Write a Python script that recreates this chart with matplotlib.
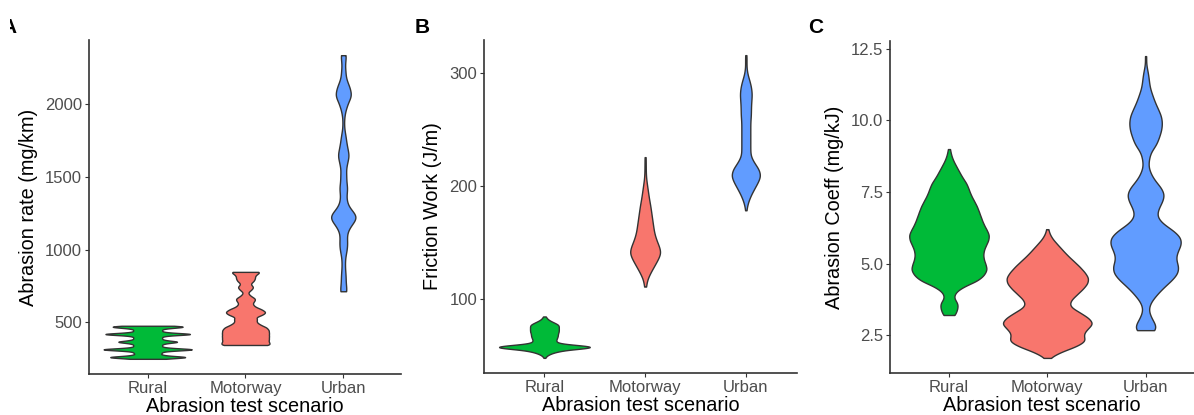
import numpy as np
import matplotlib
matplotlib.use("Agg")
import matplotlib.pyplot as plt
from matplotlib.patches import Rectangle

plt.rcParams["font.family"] = ["Liberation Sans", "DejaVu Sans"]

W, H = 1194, 415

scenarios = ["Rural", "Motorway", "Urban"]
fill_colors = ["#00BA38", "#F8766D", "#619CFF"]

# ---- Abrasion rate (mg/km): recorded values and how often each occurred ----
rate_rural_vals = [250, 262, 276, 290, 303, 315, 328, 341, 354, 367, 380, 393,
                   406, 420, 433, 446, 459, 470, 477]
rate_rural_counts = [14, 45, 15, 14, 15, 53, 15, 14, 15, 34, 15, 14,
                     15, 52, 15, 14, 15, 34, 14]

rate_motorway_vals = [345, 365, 385, 405, 425, 445, 465, 485, 505, 525, 550, 570,
                      590, 610, 628, 646, 664, 684, 703, 724, 744, 765, 785, 805,
                      826, 847]
rate_motorway_counts = [41, 35, 36, 36, 36, 36, 33, 22, 16, 19, 26, 32,
                        25, 13, 9, 12, 15, 7, 3, 9, 13, 7, 13, 15,
                        16, 26]

rate_urban_vals = [714, 770, 824, 880, 935, 990, 1040, 1090, 1140, 1180, 1223,
                   1265, 1310, 1351, 1400, 1440, 1490, 1531, 1590, 1646, 1700,
                   1750, 1794, 1850, 1900, 1950, 2000, 2056, 2110, 2160, 2220,
                   2280, 2335]
rate_urban_counts = [16, 10, 10, 7, 7, 13, 16, 13, 16, 29, 52,
                     29, 13, 10, 13, 13, 10, 10, 16, 25, 16,
                     10, 7, 3, 3, 7, 17, 36, 27, 13, 10,
                     7, 13]

# ---- Friction work (J/m) ----
work_rural_vals = [47.7, 50, 52, 54, 56, 57.5, 59, 61, 63, 65, 67, 69, 71, 73,
                   75, 77, 79, 81, 83, 84.4]
work_rural_counts = [1, 3, 8, 17, 34, 44, 28, 13, 12, 13, 14, 14, 15, 15,
                     15, 15, 10, 5, 2, 1]

work_motorway_vals = [110.9, 117, 123, 129, 135, 141, 147, 153, 159, 165, 171,
                      177, 183, 189, 195, 201, 207, 213, 219, 225.6]
work_motorway_counts = [3, 6, 16, 28, 40, 50, 43, 34, 28, 25, 22,
                        19, 16, 12, 9, 6, 3, 2, 2, 2]

work_urban_vals = [178.5, 185, 191, 197, 203, 209, 215, 221, 227, 233, 239, 245,
                   251, 257, 263, 269, 275, 281, 287, 293, 299, 305, 311, 316]
work_urban_counts = [2, 6, 14, 25, 37, 47, 41, 25, 14, 14, 14, 14,
                     14, 14, 16, 16, 17, 19, 17, 12, 5, 2, 2, 2]

# ---- Abrasion coefficient (mg/kJ) ----
coeff_rural_vals = [3.2, 3.4, 3.6, 3.8, 4.0, 4.2, 4.4, 4.6, 4.8, 5.0, 5.2, 5.4,
                    5.6, 5.8, 6.0, 6.2, 6.4, 6.6, 6.8, 7.0, 7.2, 7.4, 7.6, 7.8,
                    8.0, 8.2, 8.4, 8.6, 8.8, 9.0]
coeff_rural_counts = [6, 8, 9, 4, 6, 14, 28, 34, 37, 35, 33, 33,
                      35, 38, 39, 36, 33, 31, 29, 27, 24, 21, 19, 17,
                      13, 10, 7, 4, 2, 1]

coeff_motorway_vals = [1.7, 1.9, 2.1, 2.3, 2.5, 2.7, 2.9, 3.1, 3.3, 3.5, 3.7,
                       3.9, 4.1, 4.3, 4.5, 4.7, 4.9, 5.1, 5.3, 5.5, 5.7, 5.9,
                       6.05, 6.2]
coeff_motorway_counts = [2, 12, 28, 38, 34, 38, 45, 40, 31, 21, 22,
                         28, 34, 39, 40, 36, 31, 25, 19, 14, 9, 4,
                         1, 1]

coeff_urban_vals = [2.67, 2.9, 3.15, 3.4, 3.65, 3.9, 4.15, 4.4, 4.65, 4.9, 5.15,
                    5.4, 5.65, 5.9, 6.15, 6.4, 6.65, 6.9, 7.15, 7.4, 7.65, 7.9,
                    8.15, 8.4, 8.65, 8.9, 9.15, 9.4, 9.65, 9.9, 10.15, 10.4,
                    10.65, 10.9, 11.15, 11.4, 11.65, 11.9, 12.25]
coeff_urban_counts = [13, 11, 6, 3, 6, 13, 21, 31, 39, 40, 36,
                      38, 43, 43, 34, 20, 13, 15, 20, 23, 19, 11,
                      6, 3, 4, 6, 13, 16, 19, 20, 19, 15,
                      11, 8, 5, 4, 3, 1, 1]

rate_ticks = [500, 1000, 1500, 2000]
work_ticks = [100, 200, 300]
coeff_ticks = [2.5, 5.0, 7.5, 10.0, 12.5]

# Gaussian kernel bandwidths per scenario
rate_bw = [7, 12, 35]
work_bw = [1.3, 4, 4]
coeff_bw = [0.13, 0.13, 0.17]


def count_density(vals, counts, bw, n=512):
    """Weighted Gaussian KDE scaled by the number of observations."""
    v = np.asarray(vals, float)
    w = np.asarray(counts, float)
    grid = np.linspace(v.min(), v.max(), n)
    z = (grid[:, None] - v[None, :]) / bw
    dens = (np.exp(-0.5 * z ** 2) * w).sum(axis=1) / (bw * np.sqrt(2 * np.pi))
    return grid, dens


def px_axes(left, right, top, bottom):
    return fig.add_axes([left / W, (H - bottom) / H, (right - left) / W, (bottom - top) / H])


def violin_panel(ax, groups, bws, unit_px, width_px, ylabel, yticks, fmt):
    curves = [count_density(v, c, b) for (v, c), b in zip(groups, bws)]
    peak = max(d.max() for _, d in curves)
    for i, ((grid, dens), col) in enumerate(zip(curves, fill_colors)):
        half = 0.45 * dens / peak
        ax.fill_betweenx(grid, i + 1 - half, i + 1 + half, facecolor=col,
                         edgecolor="#333333", linewidth=1.0, zorder=2)
    lo = min(min(v) for v, _ in groups)
    hi = max(max(v) for v, _ in groups)
    pad = 0.05 * (hi - lo)
    ax.set_ylim(lo - pad, hi + pad)
    ax.set_xlim(0.4, 0.4 + width_px / unit_px)
    ax.set_xticks([1, 2, 3])
    ax.set_xticklabels(scenarios)
    ax.set_yticks(yticks)
    ax.set_yticklabels([fmt.format(t) for t in yticks])
    for side in ("top", "right"):
        ax.spines[side].set_visible(False)
    for side in ("left", "bottom"):
        ax.spines[side].set_color("#333333")
        ax.spines[side].set_linewidth(1.2)
    ax.tick_params(axis="both", colors="#333333", length=3, width=0.8,
                   labelsize=12, labelcolor="#4D4D4D", pad=2)
    ax.set_xlabel("Abrasion test scenario", fontsize=14.3, color="black", labelpad=1)
    ax.set_ylabel(ylabel, fontsize=14.3, color="black", labelpad=5)


fig = plt.figure(figsize=(W / 100, H / 100), dpi=100)

axA = px_axes(89, 401, 40, 374)
violin_panel(axA,
             [(rate_rural_vals, rate_rural_counts),
              (rate_motorway_vals, rate_motorway_counts),
              (rate_urban_vals, rate_urban_counts)],
             rate_bw, 97.8, 401 - 89, "Abrasion rate (mg/km)", rate_ticks, "{:.0f}")

axB = px_axes(484, 797, 40, 373)
violin_panel(axB,
             [(work_rural_vals, work_rural_counts),
              (work_motorway_vals, work_motorway_counts),
              (work_urban_vals, work_urban_counts)],
             work_bw, 100.7, 797 - 484, "Friction Work (J/m)", work_ticks, "{:.0f}")

axC = px_axes(890, 1194, 41, 373)
violin_panel(axC,
             [(coeff_rural_vals, coeff_rural_counts),
              (coeff_motorway_vals, coeff_motorway_counts),
              (coeff_urban_vals, coeff_urban_counts)],
             coeff_bw, 98.3, 1194 - 890, "Abrasion Coeff (mg/kJ)", coeff_ticks, "{:.1f}")

# Panel letters
fig.text(16.5 / W, (H - 33) / H, "A", fontsize=15, fontweight="bold", ha="right", va="baseline")
fig.text(415 / W, (H - 33) / H, "B", fontsize=15, fontweight="bold", ha="left", va="baseline")
fig.text(808 / W, (H - 33) / H, "C", fontsize=15, fontweight="bold", ha="left", va="baseline")
fig.add_artist(Rectangle((0, (H - 45) / H), 10 / W, 45 / H, transform=fig.transFigure,
                         facecolor="white", edgecolor="none", zorder=10))

fig.savefig("out.png", dpi=100, facecolor="white")
